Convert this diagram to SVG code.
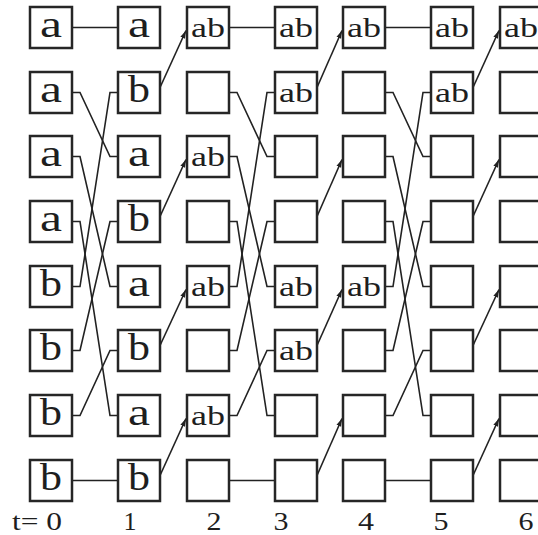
<svg xmlns="http://www.w3.org/2000/svg" width="538" height="535" viewBox="0 0 538 535">
<style>
.box{fill:#fff;stroke:#262626;stroke-width:2.5}
.s{font-family:"Liberation Serif",serif;font-size:38px;fill:#1e1e1e;text-anchor:middle}
.d{font-family:"Liberation Serif",serif;font-size:28px;fill:#1e1e1e;text-anchor:middle}
.n{font-family:"Liberation Serif",serif;font-size:26px;fill:#1e1e1e;text-anchor:middle}
.lb{font-family:"Liberation Serif",serif;font-size:26px;fill:#1e1e1e}
.ln{fill:none;stroke:#222;stroke-width:1.6}
.ar{fill:none;stroke:#222;stroke-width:1.6;marker-end:url(#ah)}
</style>
<defs>
<marker id="ah" markerUnits="userSpaceOnUse" markerWidth="9" markerHeight="6" refX="8" refY="3" orient="auto"><path d="M0,0.5 L8,3 L0,5.5 z" fill="#222"/></marker>
</defs>
<rect width="538" height="535" fill="#fff"/>
<g id="connectors">
<path class="ln" d="M72,27.5 H118"/>
<path class="ln" d="M72,92.5 H80 L110,156.5 H118"/>
<path class="ln" d="M72,156.5 H80 L110,286.5 H118"/>
<path class="ln" d="M72,221.5 H80 L110,415.5 H118"/>
<path class="ln" d="M72,286.5 H80 L110,92.5 H118"/>
<path class="ln" d="M72,350.5 H80 L110,221.5 H118"/>
<path class="ln" d="M72,415.5 H80 L110,350.5 H118"/>
<path class="ln" d="M72,480.5 H118"/>
<path class="ln" d="M229,27.5 H275"/>
<path class="ln" d="M229,92.5 H237 L267,156.5 H275"/>
<path class="ln" d="M229,156.5 H237 L267,286.5 H275"/>
<path class="ln" d="M229,221.5 H237 L267,415.5 H275"/>
<path class="ln" d="M229,286.5 H237 L267,92.5 H275"/>
<path class="ln" d="M229,350.5 H237 L267,221.5 H275"/>
<path class="ln" d="M229,415.5 H237 L267,350.5 H275"/>
<path class="ln" d="M229,480.5 H275"/>
<path class="ln" d="M385,27.5 H431"/>
<path class="ln" d="M385,92.5 H393 L423,156.5 H431"/>
<path class="ln" d="M385,156.5 H393 L423,286.5 H431"/>
<path class="ln" d="M385,221.5 H393 L423,415.5 H431"/>
<path class="ln" d="M385,286.5 H393 L423,92.5 H431"/>
<path class="ln" d="M385,350.5 H393 L423,221.5 H431"/>
<path class="ln" d="M385,415.5 H393 L423,350.5 H431"/>
<path class="ln" d="M385,480.5 H431"/>
<path class="ar" d="M160,87.5 L186,30.5"/>
<path class="ar" d="M160,216.5 L186,159.5"/>
<path class="ar" d="M160,345.5 L186,289.5"/>
<path class="ar" d="M160,475.5 L186,418.5"/>
<path class="ar" d="M317,87.5 L342,30.5"/>
<path class="ar" d="M317,216.5 L342,159.5"/>
<path class="ar" d="M317,345.5 L342,289.5"/>
<path class="ar" d="M317,475.5 L342,418.5"/>
<path class="ar" d="M473,87.5 L499,30.5"/>
<path class="ar" d="M473,216.5 L499,159.5"/>
<path class="ar" d="M473,345.5 L499,289.5"/>
<path class="ar" d="M473,475.5 L499,418.5"/>
</g>
<g id="c0r0"><rect class="box" x="30" y="7" width="42" height="41"/><text class="s" x="51" y="37" textLength="22" lengthAdjust="spacingAndGlyphs">a</text></g>
<g id="c0r1"><rect class="box" x="30" y="72" width="42" height="41"/><text class="s" x="51" y="102" textLength="22" lengthAdjust="spacingAndGlyphs">a</text></g>
<g id="c0r2"><rect class="box" x="30" y="136" width="42" height="41"/><text class="s" x="51" y="166" textLength="22" lengthAdjust="spacingAndGlyphs">a</text></g>
<g id="c0r3"><rect class="box" x="30" y="201" width="42" height="41"/><text class="s" x="51" y="231" textLength="22" lengthAdjust="spacingAndGlyphs">a</text></g>
<g id="c0r4"><rect class="box" x="30" y="266" width="42" height="41"/><text class="s" x="51" y="296" textLength="22" lengthAdjust="spacingAndGlyphs">b</text></g>
<g id="c0r5"><rect class="box" x="30" y="330" width="42" height="41"/><text class="s" x="51" y="360" textLength="22" lengthAdjust="spacingAndGlyphs">b</text></g>
<g id="c0r6"><rect class="box" x="30" y="395" width="42" height="41"/><text class="s" x="51" y="425" textLength="22" lengthAdjust="spacingAndGlyphs">b</text></g>
<g id="c0r7"><rect class="box" x="30" y="460" width="42" height="41"/><text class="s" x="51" y="490" textLength="22" lengthAdjust="spacingAndGlyphs">b</text></g>
<g id="c1r0"><rect class="box" x="118" y="7" width="42" height="41"/><text class="s" x="139" y="37" textLength="22" lengthAdjust="spacingAndGlyphs">a</text></g>
<g id="c1r1"><rect class="box" x="118" y="72" width="42" height="41"/><text class="s" x="139" y="102" textLength="22" lengthAdjust="spacingAndGlyphs">b</text></g>
<g id="c1r2"><rect class="box" x="118" y="136" width="42" height="41"/><text class="s" x="139" y="166" textLength="22" lengthAdjust="spacingAndGlyphs">a</text></g>
<g id="c1r3"><rect class="box" x="118" y="201" width="42" height="41"/><text class="s" x="139" y="231" textLength="22" lengthAdjust="spacingAndGlyphs">b</text></g>
<g id="c1r4"><rect class="box" x="118" y="266" width="42" height="41"/><text class="s" x="139" y="296" textLength="22" lengthAdjust="spacingAndGlyphs">a</text></g>
<g id="c1r5"><rect class="box" x="118" y="330" width="42" height="41"/><text class="s" x="139" y="360" textLength="22" lengthAdjust="spacingAndGlyphs">b</text></g>
<g id="c1r6"><rect class="box" x="118" y="395" width="42" height="41"/><text class="s" x="139" y="425" textLength="22" lengthAdjust="spacingAndGlyphs">a</text></g>
<g id="c1r7"><rect class="box" x="118" y="460" width="42" height="41"/><text class="s" x="139" y="490" textLength="22" lengthAdjust="spacingAndGlyphs">b</text></g>
<g id="c2r0"><rect class="box" x="187" y="7" width="42" height="41"/><text class="d" x="208" y="37" textLength="34" lengthAdjust="spacingAndGlyphs">ab</text></g>
<g id="c2r1"><rect class="box" x="187" y="72" width="42" height="41"/></g>
<g id="c2r2"><rect class="box" x="187" y="136" width="42" height="41"/><text class="d" x="208" y="166" textLength="34" lengthAdjust="spacingAndGlyphs">ab</text></g>
<g id="c2r3"><rect class="box" x="187" y="201" width="42" height="41"/></g>
<g id="c2r4"><rect class="box" x="187" y="266" width="42" height="41"/><text class="d" x="208" y="296" textLength="34" lengthAdjust="spacingAndGlyphs">ab</text></g>
<g id="c2r5"><rect class="box" x="187" y="330" width="42" height="41"/></g>
<g id="c2r6"><rect class="box" x="187" y="395" width="42" height="41"/><text class="d" x="208" y="425" textLength="34" lengthAdjust="spacingAndGlyphs">ab</text></g>
<g id="c2r7"><rect class="box" x="187" y="460" width="42" height="41"/></g>
<g id="c3r0"><rect class="box" x="275" y="7" width="42" height="41"/><text class="d" x="296" y="37" textLength="34" lengthAdjust="spacingAndGlyphs">ab</text></g>
<g id="c3r1"><rect class="box" x="275" y="72" width="42" height="41"/><text class="d" x="296" y="102" textLength="34" lengthAdjust="spacingAndGlyphs">ab</text></g>
<g id="c3r2"><rect class="box" x="275" y="136" width="42" height="41"/></g>
<g id="c3r3"><rect class="box" x="275" y="201" width="42" height="41"/></g>
<g id="c3r4"><rect class="box" x="275" y="266" width="42" height="41"/><text class="d" x="296" y="296" textLength="34" lengthAdjust="spacingAndGlyphs">ab</text></g>
<g id="c3r5"><rect class="box" x="275" y="330" width="42" height="41"/><text class="d" x="296" y="360" textLength="34" lengthAdjust="spacingAndGlyphs">ab</text></g>
<g id="c3r6"><rect class="box" x="275" y="395" width="42" height="41"/></g>
<g id="c3r7"><rect class="box" x="275" y="460" width="42" height="41"/></g>
<g id="c4r0"><rect class="box" x="343" y="7" width="42" height="41"/><text class="d" x="364" y="37" textLength="34" lengthAdjust="spacingAndGlyphs">ab</text></g>
<g id="c4r1"><rect class="box" x="343" y="72" width="42" height="41"/></g>
<g id="c4r2"><rect class="box" x="343" y="136" width="42" height="41"/></g>
<g id="c4r3"><rect class="box" x="343" y="201" width="42" height="41"/></g>
<g id="c4r4"><rect class="box" x="343" y="266" width="42" height="41"/><text class="d" x="364" y="296" textLength="34" lengthAdjust="spacingAndGlyphs">ab</text></g>
<g id="c4r5"><rect class="box" x="343" y="330" width="42" height="41"/></g>
<g id="c4r6"><rect class="box" x="343" y="395" width="42" height="41"/></g>
<g id="c4r7"><rect class="box" x="343" y="460" width="42" height="41"/></g>
<g id="c5r0"><rect class="box" x="431" y="7" width="42" height="41"/><text class="d" x="452" y="37" textLength="34" lengthAdjust="spacingAndGlyphs">ab</text></g>
<g id="c5r1"><rect class="box" x="431" y="72" width="42" height="41"/><text class="d" x="452" y="102" textLength="34" lengthAdjust="spacingAndGlyphs">ab</text></g>
<g id="c5r2"><rect class="box" x="431" y="136" width="42" height="41"/></g>
<g id="c5r3"><rect class="box" x="431" y="201" width="42" height="41"/></g>
<g id="c5r4"><rect class="box" x="431" y="266" width="42" height="41"/></g>
<g id="c5r5"><rect class="box" x="431" y="330" width="42" height="41"/></g>
<g id="c5r6"><rect class="box" x="431" y="395" width="42" height="41"/></g>
<g id="c5r7"><rect class="box" x="431" y="460" width="42" height="41"/></g>
<g id="c6r0"><rect class="box" x="500" y="7" width="42" height="41"/><text class="d" x="521" y="37" textLength="34" lengthAdjust="spacingAndGlyphs">ab</text></g>
<g id="c6r1"><rect class="box" x="500" y="72" width="42" height="41"/></g>
<g id="c6r2"><rect class="box" x="500" y="136" width="42" height="41"/></g>
<g id="c6r3"><rect class="box" x="500" y="201" width="42" height="41"/></g>
<g id="c6r4"><rect class="box" x="500" y="266" width="42" height="41"/></g>
<g id="c6r5"><rect class="box" x="500" y="330" width="42" height="41"/></g>
<g id="c6r6"><rect class="box" x="500" y="395" width="42" height="41"/></g>
<g id="c6r7"><rect class="box" x="500" y="460" width="42" height="41"/></g>
<g id="labels">
<text class="lb" x="12" y="530" textLength="50" lengthAdjust="spacingAndGlyphs">t= 0</text>
<text class="n" x="130" y="530">1</text>
<text class="n" x="214" y="530" textLength="15" lengthAdjust="spacingAndGlyphs">2</text>
<text class="n" x="281" y="530" textLength="15" lengthAdjust="spacingAndGlyphs">3</text>
<text class="n" x="366" y="530" textLength="16" lengthAdjust="spacingAndGlyphs">4</text>
<text class="n" x="441" y="530" textLength="15" lengthAdjust="spacingAndGlyphs">5</text>
<text class="n" x="526" y="530" textLength="15" lengthAdjust="spacingAndGlyphs">6</text>
</g>
</svg>
